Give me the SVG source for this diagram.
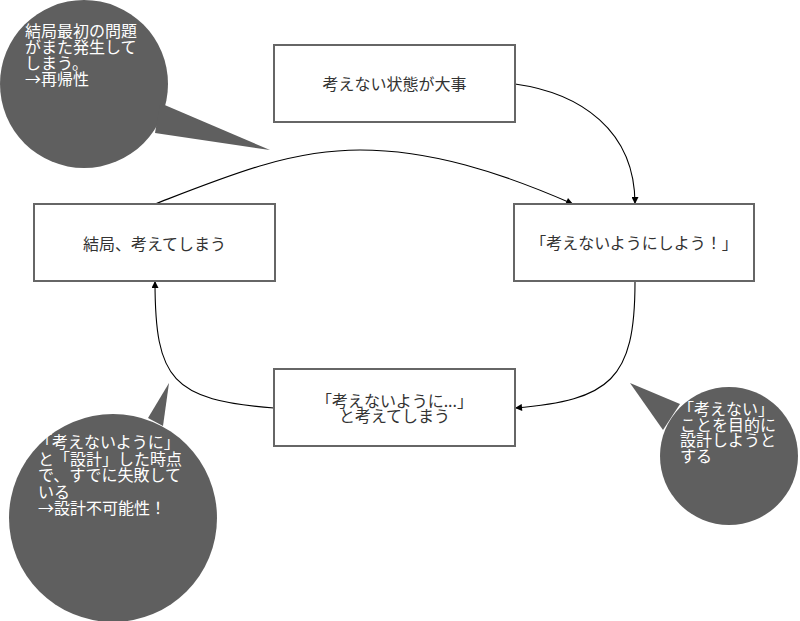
<svg xmlns="http://www.w3.org/2000/svg" width="800" height="621" viewBox="0 0 800 621">
<style>
.box{fill:#fff;stroke:#666;stroke-width:2}
.bt{font-family:"Noto Sans CJK JP","Noto Sans",sans-serif;font-size:16px;fill:#333;text-anchor:middle}
.bub{fill:#5f5f5f}
.wt{font-family:"Noto Sans CJK JP","Noto Sans",sans-serif;font-size:16px;fill:#fff}
.con{fill:none;stroke:#000;stroke-width:1.1}
</style>
<defs>
<marker id="ah" viewBox="0 0 10 10" refX="10" refY="5" markerWidth="8" markerHeight="7" markerUnits="userSpaceOnUse" orient="auto">
<path d="M0,0 L10,5 L0,10 z" fill="#000"/>
</marker>
</defs>
<rect width="800" height="621" fill="#fff"/>
<g id="connectors">
<path class="con" d="M515,84 C580,93 635,130 635,204" marker-end="url(#ah)"/>
<path class="con" d="M155,204 C230,175 290,150 360,150 C430,150 500,172 573,204" marker-end="url(#ah)"/>
<path class="con" d="M635,282 C635,380 610,400 515,408" marker-end="url(#ah)"/>
<path class="con" d="M274,408 C172,400 155,380 155,281" marker-end="url(#ah)"/>
</g>
<g id="node-top">
<rect class="box" x="274" y="45" width="241" height="77"/>
<text class="bt" x="394.5" y="89.5">考えない状態が大事</text>
</g>
<g id="node-right">
<rect class="box" x="514" y="204" width="240" height="77"/>
<text class="bt" x="634" y="248.5">「考えないようにしよう！」</text>
</g>
<g id="node-left">
<rect class="box" x="34" y="204" width="241" height="77"/>
<text class="bt" x="154.5" y="249.5">結局、考えてしまう</text>
</g>
<g id="node-bottom">
<rect class="box" x="274" y="369" width="241" height="77"/>
<text class="bt" x="394.5" y="407"><tspan x="394.5" y="407">「考えないように...」</tspan><tspan x="394.5" y="422">と考えてしまう</tspan></text>
</g>
<g id="bubble-topleft">
<circle class="bub" cx="84" cy="84" r="84"/>
<polygon class="bub" points="160,103 270,150 155,133"/>
<text class="wt"><tspan x="25" y="37">結局最初の問題</tspan><tspan x="25" y="53">がまた発生して</tspan><tspan x="25" y="69">しまう。</tspan><tspan x="25" y="85">→再帰性</tspan></text>
</g>
<g id="bubble-bottomleft">
<circle class="bub" cx="113" cy="518" r="104"/>
<polygon class="bub" points="148,418 169,383 163,426"/>
<text class="wt"><tspan x="36" y="448">「考えないように」</tspan><tspan x="38" y="464.5">と「設計」した時点</tspan><tspan x="38" y="481">で、すでに失敗して</tspan><tspan x="38" y="497.5">いる</tspan><tspan x="38" y="514">→設計不可能性！</tspan></text>
</g>
<g id="bubble-bottomright">
<circle class="bub" cx="729" cy="456" r="69"/>
<polygon class="bub" points="630,383 680,404 663,430"/>
<text class="wt"><tspan x="678" y="415">「考えない」</tspan><tspan x="680" y="430.5">ことを目的に</tspan><tspan x="680" y="446">設計しようと</tspan><tspan x="680" y="462">する</tspan></text>
</g>
</svg>
